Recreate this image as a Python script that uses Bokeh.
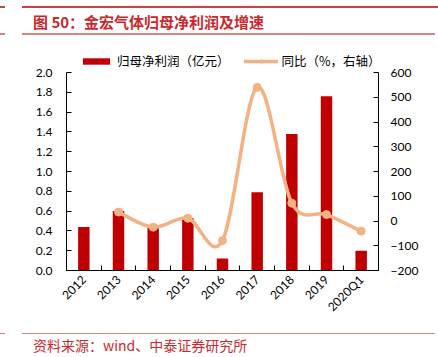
import numpy as np
from bokeh.plotting import figure
from bokeh.layouts import column
from bokeh.models import (Range1d, LinearAxis, FixedTicker, Div, Legend, LegendItem)
from bokeh.embed import file_html
from bokeh.resources import INLINE

# ---------------- data ----------------
categories = ["2012", "2013", "2014", "2015", "2016", "2017", "2018", "2019", "2020Q1"]
profit = [0.44, 0.60, 0.44, 0.53, 0.12, 0.79, 1.38, 1.76, 0.20]          # 亿元
growth_categories = ["2013", "2014", "2015", "2016", "2017", "2018", "2019", "2020Q1"]
growth = [36, -25, 11, -79, 540, 72, 26, -41]                              # %
left_ticks = [0.0, 0.2, 0.4, 0.6, 0.8, 1.0, 1.2, 1.4, 1.6, 1.8, 2.0]
right_ticks = [-200, -100, 0, 100, 200, 300, 400, 500, 600]

title_text = "图 50：金宏气体归母净利润及增速"
source_text = "资料来源：wind、中泰证券研究所"
bar_label = "归母净利润（亿元）"
line_label = "同比（%，右轴）"

BAR = "#C00000"
LINE = "#F4B183"
RED = "#C8282E"
RULE = "#C8464A"
PINK = "#D98484"
TICK_FONT = "Lato"
CJK = "Noto Sans CJK SC"

W = 438
HEAD_H, MAIN_H, FOOT_H = 45, 280, 32
FRAME_H = 225          # frame height of main figure (axis part uses 198 px)
AXIS_PX = 198
ext = FRAME_H / AXIS_PX


def bar_div(left, top, width, height, color):
    return (f'<div style="position:absolute;left:{left}px;top:{top}px;'
            f'width:{width}px;height:{height}px;background-color:{color};"></div>')


def text_div(left, mid, text, size, color, bold=False):
    weight = "bold" if bold else "normal"
    return (f'<div style="position:absolute;left:{left}px;top:{mid}px;'
            f'transform:translateY(-50%);font-family:\'{CJK}\';font-size:{size}px;'
            f'font-weight:{weight};color:{color};white-space:nowrap;line-height:1;">'
            f'{text}</div>')


# ---------------- header ----------------
head_html = ('<div style="position:relative;width:438px;height:45px;overflow:hidden;">'
             + bar_div(22, 6, 416, 2, RULE) + bar_div(0, 6, 5, 2, RULE)
             + bar_div(22, 33, 413, 1.5, PINK) + bar_div(0, 33, 5, 1.5, PINK)
             + text_div(33, 20.5, title_text, 15, RED, bold=True)
             + '</div>')
head = Div(text=head_html, width=W, height=HEAD_H, margin=0)

# ---------------- main chart ----------------
p = figure(width=W, height=MAIN_H, output_backend="svg", toolbar_location=None,
           x_range=Range1d(0.5, len(categories) + 0.5),
           y_range=Range1d(left_ticks[0], left_ticks[0] + (left_ticks[-1] - left_ticks[0]) * ext),
           min_border_left=66, min_border_right=60, min_border_top=0,
           min_border_bottom=MAIN_H - FRAME_H, outline_line_color=None)
p.extra_y_ranges = {"y2": Range1d(right_ticks[0],
                                  right_ticks[0] + (right_ticks[-1] - right_ticks[0]) * ext)}
p.xgrid.visible = False
p.ygrid.visible = False

xpos = list(range(1, len(categories) + 1))
bars = p.vbar(x=xpos, top=profit, width=0.33, color=BAR, line_color=None)

# smooth (Catmull-Rom -> Bezier) growth line
gx = np.array([categories.index(c) + 1 for c in growth_categories], dtype=float)
gy = np.array(growth, dtype=float)
P = np.column_stack([gx, gy])
E = np.vstack([P[0], P, P[-1]])
x0, y0, x1, y1, cx0, cy0, cx1, cy1 = ([] for _ in range(8))
for i in range(len(P) - 1):
    p0, p1, p2, p3 = E[i], E[i + 1], E[i + 2], E[i + 3]
    c0 = p1 + (p2 - p0) / 6.0
    c1 = p2 - (p3 - p1) / 6.0
    x0.append(p1[0]); y0.append(p1[1]); x1.append(p2[0]); y1.append(p2[1])
    cx0.append(c0[0]); cy0.append(c0[1]); cx1.append(c1[0]); cy1.append(c1[1])
curve = p.bezier(x0=x0, y0=y0, x1=x1, y1=y1, cx0=cx0, cy0=cy0, cx1=cx1, cy1=cy1,
                 y_range_name="y2", line_color=LINE, line_width=3.5, line_cap="round")
pts = p.scatter(x=list(gx), y=growth, y_range_name="y2", size=8,
                fill_color=LINE, line_color=LINE)

# axes
for ax in (p.xaxis[0], p.yaxis[0]):
    ax.axis_line_color = "black"
    ax.major_tick_line_color = "black"
    ax.minor_tick_line_color = "black"
    ax.major_label_text_font = TICK_FONT
    ax.major_label_text_font_size = "12px"
    ax.major_label_text_color = "black"

xa = p.xaxis[0]
xa.ticker = FixedTicker(ticks=xpos, minor_ticks=[x - 0.5 for x in xpos] + [len(xpos) + 0.5])
xa.major_label_overrides = {i: c for i, c in zip(xpos, categories)}
xa.major_tick_in = 0
xa.major_tick_out = 0
xa.minor_tick_in = 5
xa.minor_tick_out = 0
xa.major_label_orientation = np.pi / 4
xa.major_label_standoff = 7

ya = p.yaxis[0]
ya.ticker = FixedTicker(ticks=left_ticks)
ya.major_label_overrides = {t: f"{t:.1f}" for t in left_ticks}
ya.bounds = (left_ticks[0], left_ticks[-1])
ya.major_tick_in = 5
ya.major_tick_out = 0
ya.minor_tick_line_color = None
ya.major_label_standoff = 14

ra = LinearAxis(y_range_name="y2", ticker=FixedTicker(ticks=right_ticks),
                bounds=(right_ticks[0], right_ticks[-1]),
                axis_line_color="black", major_tick_line_color="black",
                minor_tick_line_color=None, major_tick_in=5, major_tick_out=0,
                major_label_text_font=TICK_FONT, major_label_text_font_size="12px",
                major_label_text_color="black", major_label_standoff=12)
p.add_layout(ra, "right")

legend = Legend(items=[LegendItem(label=bar_label, renderers=[bars]),
                       LegendItem(label=line_label, renderers=[curve, pts])],
                orientation="horizontal", location=(13, 200),
                glyph_width=34, glyph_height=8, label_height=18, label_width=112,
                label_standoff=4, spacing=14, padding=0, margin=0,
                border_line_color=None, background_fill_alpha=0,
                label_text_font=CJK, label_text_font_size="12.5px",
                label_text_color="black")
p.add_layout(legend, "center")

# ---------------- footer ----------------
foot_html = ('<div style="position:relative;width:438px;height:32px;overflow:hidden;">'
             + bar_div(22, 7.5, 413, 1.5, PINK) + bar_div(0, 7.5, 5, 1.5, PINK)
             + text_div(33, 20, source_text, 14, RED)
             + '</div>')
foot = Div(text=foot_html, width=W, height=FOOT_H, margin=0)

layout = column(head, p, foot, spacing=0)
open("out.html", "w").write(file_html(layout, INLINE))
